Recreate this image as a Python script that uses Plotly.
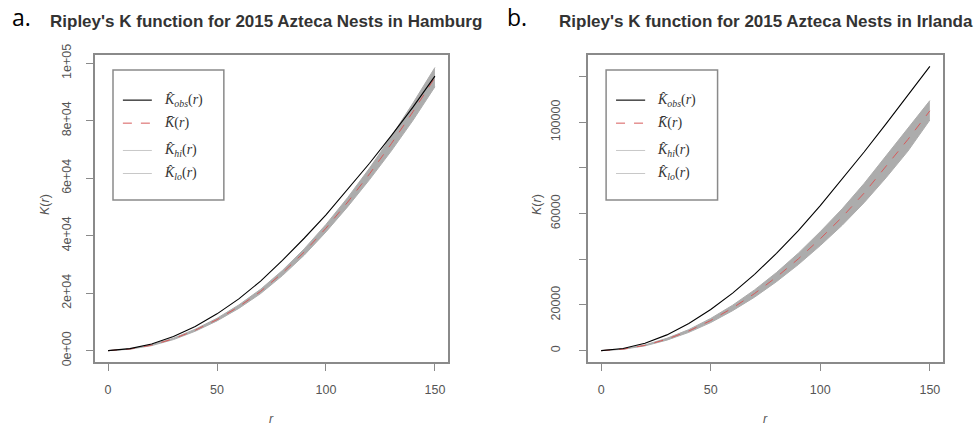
import plotly.graph_objects as go

# ---- data ----
r = [0, 10, 20, 30, 40, 50, 60, 70, 80, 90, 100, 110, 120, 130, 140, 150]

# a. Hamburg
obs_hamburg = [0, 700, 2300, 4900, 8400, 12800, 18000, 24200, 31400, 39100, 47200, 56000, 65200, 74800, 84800, 95500]
theo_hamburg = [0, 550, 1900, 4100, 7100, 10800, 15300, 20600, 27000, 34300, 42600, 51700, 61500, 72000, 83200, 95000]
hi_hamburg = [0, 610, 2050, 4350, 7450, 11250, 15900, 21350, 27900, 35400, 43900, 53300, 63500, 74500, 86200, 98500]
lo_hamburg = [0, 490, 1750, 3850, 6750, 10350, 14700, 19850, 26100, 33200, 41300, 50100, 59500, 69500, 80200, 91800]

# b. Irlanda
obs_irlanda = [0, 900, 3200, 6900, 11900, 18000, 25200, 33400, 42600, 52600, 63500, 75000, 87000, 99300, 111800, 124500]
theo_irlanda = [0, 650, 2300, 5000, 8600, 13200, 18700, 25000, 32200, 40200, 49000, 58500, 69000, 80500, 92500, 105000]
hi_irlanda = [0, 720, 2500, 5400, 9200, 14100, 19900, 26600, 34200, 42700, 52100, 62100, 73200, 85300, 97500, 109500]
lo_irlanda = [0, 580, 2100, 4600, 8000, 12300, 17500, 23400, 30200, 37700, 46000, 54900, 64800, 75700, 87400, 101000]

x_ticks = [0, 50, 100, 150]
y_ticks_a = [0, 20000, 40000, 60000, 80000, 100000]
y_labels_a = ["0e+00", "2e+04", "4e+04", "6e+04", "8e+04", "1e+05"]
y_ticks_b = [0, 20000, 40000, 60000, 80000, 100000, 120000]
y_labels_b = ["0", "20000", "", "60000", "", "100000", ""]

panel_letters = ["a.", "b."]
panel_titles = ["Ripley's K function for 2015 Azteca Nests in Hamburg",
                "Ripley's K function for 2015 Azteca Nests in Irlanda"]
legend_labels = ["<i>K̂</i><sub><i>obs</i></sub>(<i>r</i>)",
                 "<i>K̄</i>(<i>r</i>)",
                 "<i>K̂</i><sub><i>hi</i></sub>(<i>r</i>)",
                 "<i>K̂</i><sub><i>lo</i></sub>(<i>r</i>)"]

BAND = "rgb(172,172,172)"
RED = "rgb(215,90,90)"
AXC = "#8a8a8a"
TXT = "#555555"

fig = go.Figure()

panels = [
    ("x", "y", obs_hamburg, theo_hamburg, hi_hamburg, lo_hamburg),
    ("x2", "y2", obs_irlanda, theo_irlanda, hi_irlanda, lo_irlanda),
]
for xa, ya, obs, theo, hi, lo in panels:
    fig.add_trace(go.Scatter(x=r, y=lo, xaxis=xa, yaxis=ya, mode="lines",
                             line=dict(color=BAND, width=1), showlegend=False, hoverinfo="skip"))
    fig.add_trace(go.Scatter(x=r, y=hi, xaxis=xa, yaxis=ya, mode="lines", fill="tonexty",
                             fillcolor=BAND, line=dict(color=BAND, width=1), showlegend=False, hoverinfo="skip"))
    fig.add_trace(go.Scatter(x=r, y=theo, xaxis=xa, yaxis=ya, mode="lines",
                             line=dict(color=RED, width=1, dash="dash"), showlegend=False))
    fig.add_trace(go.Scatter(x=r, y=obs, xaxis=xa, yaxis=ya, mode="lines",
                             line=dict(color="black", width=1.1), showlegend=False))

W, H = 980, 432
dom_a = [95 / W, 448 / W]
dom_b = [588 / W, 943 / W]
dom_y = [(H - 362) / H, (H - 55) / H]

axis_common = dict(showline=True, linecolor=AXC, linewidth=1.5, mirror=True,
                   ticks="outside", ticklen=7, tickcolor=AXC, tickwidth=1,
                   showgrid=False, zeroline=False, automargin=False,
                   tickfont=dict(family="Liberation Sans, Arial", size=12.5, color=TXT))

fig.update_layout(
    template="none",
    width=W, height=H,
    margin=dict(l=0, r=0, t=0, b=0, pad=0),
    paper_bgcolor="white", plot_bgcolor="white",
    showlegend=False,
    xaxis=dict(domain=dom_a, range=[-6, 156], tickvals=x_ticks, ticklabelstandoff=8,
               anchor="y", **axis_common),
    yaxis=dict(domain=dom_y, range=[-3950, 102850], tickvals=y_ticks_a, ticktext=y_labels_a,
               tickangle=-90, ticklabelstandoff=10, anchor="x", **axis_common),
    xaxis2=dict(domain=dom_b, range=[-6, 156], tickvals=x_ticks, ticklabelstandoff=8,
                anchor="y2", **axis_common),
    yaxis2=dict(domain=dom_y, range=[-4980, 129480], tickvals=y_ticks_b, ticktext=y_labels_b,
                tickangle=-90, ticklabelstandoff=14, anchor="x2", **axis_common),
)

annotations = []
shapes = []
letter_x = [21, 517]
title_x = [48, 557]
ylab_x = [45, 537]
xlab_x = [271, 765]
for i in range(2):
    annotations.append(dict(text=panel_letters[i], x=letter_x[i] / W, y=(H - 17) / H,
                            xref="paper", yref="paper", showarrow=False,
                            xanchor="center", yanchor="middle",
                            font=dict(family="Open Sans, Liberation Sans", size=23, color="black")))
    annotations.append(dict(text="<b>" + panel_titles[i] + "</b>", x=title_x[i] / W, y=(H - 21) / H,
                            xref="paper", yref="paper", showarrow=False, xanchor="left", yanchor="middle",
                            font=dict(family="Liberation Sans, Arial", size=17, color="#333")))
    annotations.append(dict(text="<i>K</i>(<i>r</i>)", x=ylab_x[i] / W, y=(H - 205) / H,
                            xref="paper", yref="paper", showarrow=False, textangle=-90,
                            xanchor="center", yanchor="middle",
                            font=dict(family="Liberation Sans, Arial", size=12.5, color=TXT)))
    annotations.append(dict(text="<i>r</i>", x=xlab_x[i] / W, y=(H - 419) / H,
                            xref="paper", yref="paper", showarrow=False,
                            xanchor="center", yanchor="middle",
                            font=dict(family="Liberation Sans, Arial", size=12.5, color=TXT)))

    # legend box drawn inside each panel
    xr = "x domain" if i == 0 else "x2 domain"
    yr = "y domain" if i == 0 else "y2 domain"
    shapes.append(dict(type="rect", xref=xr, yref=yr, x0=0.051, x1=0.365, y0=0.528, y1=0.951,
                       line=dict(color=AXC, width=1.5), fillcolor="rgba(0,0,0,0)"))
    row_y = [0.853, 0.778, 0.689, 0.614]
    styles = [dict(color="black", width=1.1),
              dict(color=RED, width=1, dash="dash"),
              dict(color="rgb(200,200,200)", width=1),
              dict(color="rgb(200,200,200)", width=1)]
    for k in range(4):
        shapes.append(dict(type="line", xref=xr, yref=yr, x0=0.079, x1=0.161,
                           y0=row_y[k], y1=row_y[k], line=styles[k]))
        annotations.append(dict(text=legend_labels[k], xref=xr, yref=yr, x=0.19, y=row_y[k],
                                xanchor="left", yanchor="middle", showarrow=False,
                                font=dict(family="Liberation Serif, DejaVu Serif", size=14, color="#333")))

fig.update_layout(annotations=annotations, shapes=shapes)
fig.write_html("out.html", config={"displayModeBar": False},
               post_script="document.body.style.margin='0px';")
